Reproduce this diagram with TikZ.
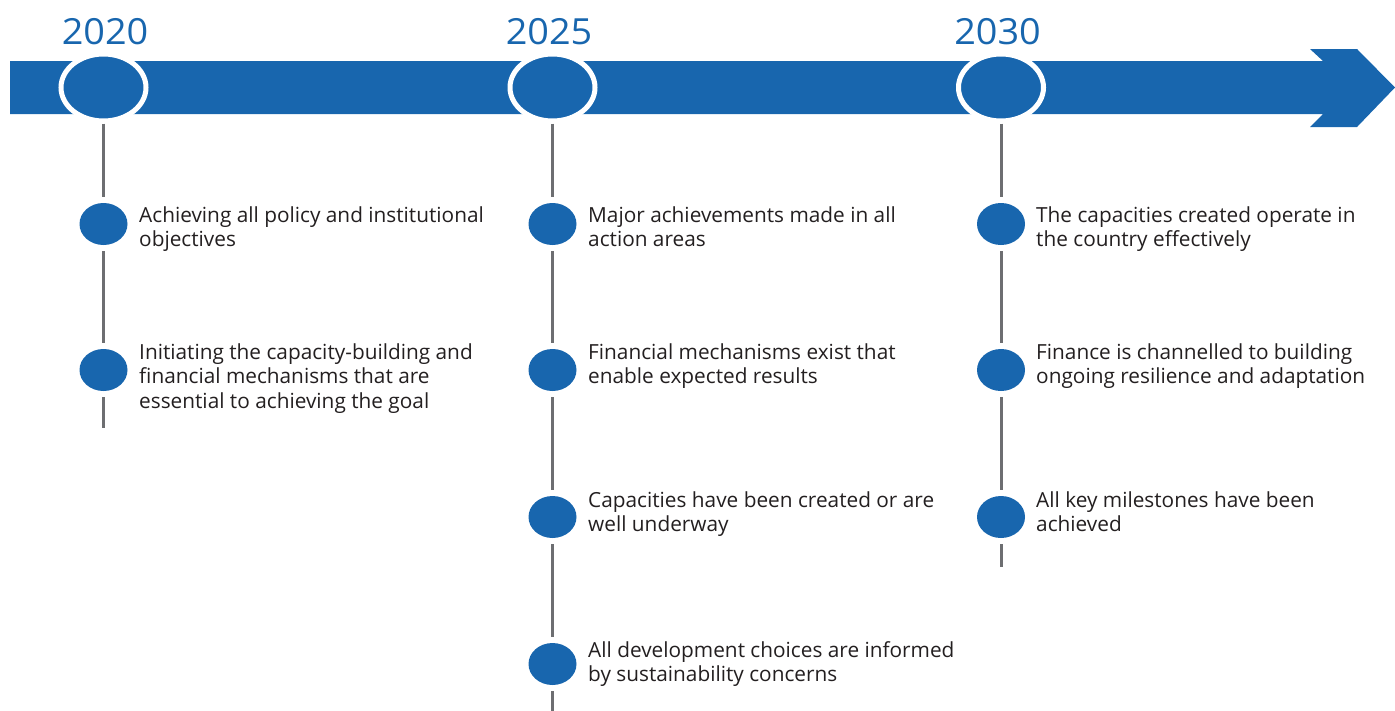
\documentclass[tikz,border=0pt]{standalone}
\usepackage{fontspec}
\setmainfont{Open Sans}
\newfontfamily\yearfont[FakeStretch=1.05]{Open Sans}
\usetikzlibrary{shapes.geometric}
\definecolor{tlblue}{HTML}{1866AE}
\definecolor{tlgray}{HTML}{6D6E71}
\definecolor{tltext}{HTML}{231F20}
\newcommand{\goaltext}[1]{\begin{tabular}[t]{@{}l@{}}#1\end{tabular}}
\begin{document}
\begin{tikzpicture}[x=1pt,y=-1pt,
  yearlabel/.style={text=tlblue, font=\yearfont\fontsize{36}{40}\selectfont, inner sep=0},
  milestone/.style={ellipse, fill=tlblue, draw=white, line width=5pt,
    minimum width=85pt, minimum height=67pt, inner sep=0, outer sep=2.5pt},
  dot/.style={ellipse, fill=tlblue, minimum width=48pt, minimum height=42pt,
    inner sep=0, outer sep=6pt},
  stem/.style={draw=tlgray, line width=3pt},
  goal/.style={anchor=base west, inner sep=0, text=tltext,
    font=\fontsize{20.8}{24.5}\selectfont}
]
\useasboundingbox (0,0) rectangle (1395,710);

% timeline arrow
\fill[tlblue] (10,61) -- (1323,61) -- (1310,49) -- (1357,49) -- (1395,87.5)
  -- (1357,127) -- (1310,127) -- (1323,114) -- (10,114) -- cycle;

% year markers
\node[milestone] (m1) at (103.5,87.5) {};
\node[milestone] (m2) at (552.5,87.5) {};
\node[milestone] (m3) at (1001,87.5) {};
\node[yearlabel] (y1) at (105,32) {2020};
\node[yearlabel] (y2) at (549,32) {2025};
\node[yearlabel] (y3) at (997.5,32) {2030};

% milestone dots
\node[dot] (a1) at (103.5,224) {};
\node[dot] (a2) at (103.5,370) {};
\node[dot] (b1) at (552.5,224) {};
\node[dot] (b2) at (552.5,370) {};
\node[dot] (b3) at (552.5,517) {};
\node[dot] (b4) at (552.5,664) {};
\node[dot] (c1) at (1001,224) {};
\node[dot] (c2) at (1001,370) {};
\node[dot] (c3) at (1001,517) {};

\coordinate (aend) at (103.5,428);
\coordinate (bend) at (552.5,712);
\coordinate (cend) at (1001,567);

% stems
\draw[stem] (m1) -- (a1);
\draw[stem] (a1) -- (a2);
\draw[stem] (a2) -- (aend);
\draw[stem] (m2) -- (b1);
\draw[stem] (b1) -- (b2);
\draw[stem] (b2) -- (b3);
\draw[stem] (b3) -- (b4);
\draw[stem] (b4) -- (bend);
\draw[stem] (m3) -- (c1);
\draw[stem] (c1) -- (c2);
\draw[stem] (c2) -- (c3);
\draw[stem] (c3) -- (cend);

% goals
\node[goal] (ta1) at (139,222) {\goaltext{Achieving all policy and institutional\\objectives}};
\node[goal] (ta2) at (139,359) {\goaltext{Initiating the capacity-building and\\financial mechanisms that are\\essential to achieving the goal}};
\node[goal] (tb1) at (588,222) {\goaltext{Major achievements made in all\\action areas}};
\node[goal] (tb2) at (588,359) {\goaltext{Financial mechanisms exist that\\enable expected results}};
\node[goal] (tb3) at (588,507) {\goaltext{Capacities have been created or are\\well underway}};
\node[goal] (tb4) at (588,657) {\goaltext{All development choices are informed\\by sustainability concerns}};
\node[goal] (tc1) at (1036,222) {\goaltext{The capacities created operate in\\the country effectively}};
\node[goal] (tc2) at (1036,359) {\goaltext{Finance is channelled to building\\ongoing resilience and adaptation}};
\node[goal] (tc3) at (1036,507) {\goaltext{All key milestones have been\\achieved}};
\end{tikzpicture}
\end{document}
